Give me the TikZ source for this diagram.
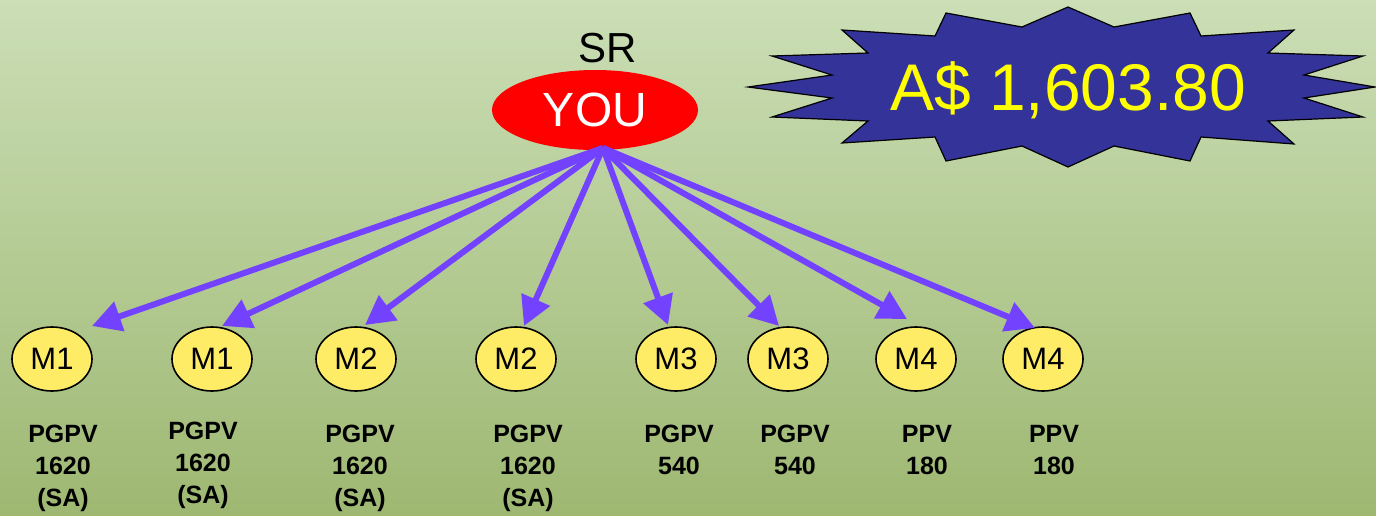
\documentclass[tikz,border=0pt]{standalone}
\usepackage{fontspec}
\setmainfont{Liberation Sans}
\usetikzlibrary{shapes.geometric,arrows.meta}
\definecolor{bgtop}{RGB}{203,222,182}
\definecolor{bgbot}{RGB}{158,184,114}
\definecolor{arrowc}{RGB}{114,66,255}
\definecolor{mfill}{RGB}{255,236,102}
\definecolor{starblue}{RGB}{51,51,153}
\definecolor{staryellow}{RGB}{255,255,0}
\tikzset{
  mnode/.style={ellipse, draw=black, line width=1.6pt, fill=mfill, minimum width=80pt, minimum height=64pt, inner sep=0pt, font=\fontsize{31}{36}\selectfont},
  youbox/.style={ellipse, fill=red, minimum width=206pt, minimum height=80pt, inner sep=0pt, text=white, font=\fontsize{48}{54}\selectfont},
  lbl/.style={anchor=north, align=center, inner sep=0pt, font=\fontsize{25}{32}\selectfont\bfseries},
  arr/.style={draw=arrowc, line width=6pt, -{Triangle[length=29pt,width=30pt]}, shorten <=0pt},
  starshape/.style={fill=starblue, draw=black, line width=1.2pt, line join=miter},
}
\begin{document}
\begin{tikzpicture}[x=1pt,y=-1pt]
\useasboundingbox (0,0) rectangle (1376,515);
\shade[top color=bgtop, bottom color=bgbot] (0,0) rectangle (1376,515);

% star burst
\draw[starshape] (1068,7) -- (1114,27) -- (1190,13) -- (1201,36) -- (1294,30) -- (1268,53) -- (1363,56) -- (1304,75) -- (1375,87) -- (1304,98) -- (1363,117) -- (1268,121) -- (1294,144) -- (1201,137) -- (1190,161) -- (1114,146) -- (1068,167) -- (1022,146) -- (946,161) -- (935,137) -- (842,143) -- (868,121) -- (772,117) -- (832,98) -- (748,87) -- (832,75) -- (772,56) -- (868,53) -- (842,30) -- (935,36) -- (946,13) -- (1022,27) -- cycle;
\node[text=staryellow, inner sep=0pt, font=\fontsize{66}{72}\selectfont] (amount) at (1068,90) {A\$ 1,603.80};

% top
\node[anchor=base, inner sep=0pt, font=\fontsize{42}{48}\selectfont] (sr) at (608,62) {SR};
\node[youbox] (you) at (595,110) {YOU};
\coordinate (src) at (603,148);

% members
\node[mnode] (m1a) at (52,359) {M1};
\node[mnode] (m1b) at (212,359) {M1};
\node[mnode] (m2a) at (356,359) {M2};
\node[mnode] (m2b) at (516,359) {M2};
\node[mnode] (m3a) at (676,359) {M3};
\node[mnode] (m3b) at (788,359) {M3};
\node[mnode] (m4a) at (916,359) {M4};
\node[mnode] (m4b) at (1043,359) {M4};

% arrow tips
\coordinate (t1) at (92,326);
\coordinate (t2) at (222,326);
\coordinate (t3) at (365,325);
\coordinate (t4) at (524,326);
\coordinate (t5) at (668,325);
\coordinate (t6) at (779,326);
\coordinate (t7) at (907,319);
\coordinate (t8) at (1035,328);
\foreach \t in {t1,t2,t3,t4,t5,t6,t7,t8}
  \draw[arr] (src) -- (\t);

% labels
\node[lbl] (l1) at (63,425) {PGPV\\1620\\(SA)};
\node[lbl] (l2) at (203,422) {PGPV\\1620\\(SA)};
\node[lbl] (l3) at (360,425) {PGPV\\1620\\(SA)};
\node[lbl] (l4) at (528,425) {PGPV\\1620\\(SA)};
\node[lbl] (l5) at (679,425) {PGPV\\540};
\node[lbl] (l6) at (795,425) {PGPV\\540};
\node[lbl] (l7) at (927,425) {PPV\\180};
\node[lbl] (l8) at (1054,425) {PPV\\180};
\end{tikzpicture}
\end{document}
